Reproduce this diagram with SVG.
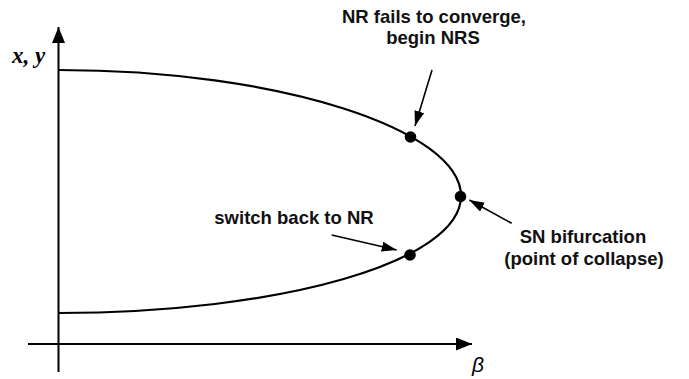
<svg xmlns="http://www.w3.org/2000/svg" width="689" height="379" viewBox="0 0 689 379">
<style>
.axis{stroke:#000;stroke-width:2;fill:none}
.curve{stroke:#000;stroke-width:2.2;fill:none}
.ann{stroke:#000;stroke-width:1.6;fill:none}
.lbl{font-family:"Liberation Sans",Arial,sans-serif;font-weight:bold;font-size:18.5px;fill:#111;text-anchor:middle}
.dot{fill:#000}
</style>
<defs>
<marker id="axhead" markerUnits="userSpaceOnUse" markerWidth="18" markerHeight="14" refX="16" refY="6.5" orient="auto">
<path d="M0,0 L16,6.5 L0,13 Z" fill="#000"/>
</marker>
<marker id="anhead" markerUnits="userSpaceOnUse" markerWidth="17" markerHeight="12" refX="15" refY="5" orient="auto">
<path d="M0,0 L15,5 L0,10 Z" fill="#000"/>
</marker>
</defs>
<g id="axes">
<line class="axis" x1="58.5" y1="372" x2="58.5" y2="27" marker-end="url(#axhead)"/>
<line class="axis" x1="28" y1="344" x2="472" y2="344" marker-end="url(#axhead)"/>
<text x="12" y="63" font-family="'Liberation Serif','Times New Roman',serif" font-weight="bold" font-style="italic" font-size="23" fill="#000">x, y</text>
<text x="478" y="372" font-family="'Liberation Sans',Arial,sans-serif" font-style="italic" font-size="21" fill="#000" text-anchor="middle">β</text>
</g>
<g id="curve">
<path class="curve" d="M58.5,70 C280,70 461,130 461,196"/>
<path class="curve" d="M58.5,313 C280,313 461,262 461,196"/>
</g>
<g id="node-nrs">
<circle class="dot" cx="410.5" cy="137" r="5.8"/>
<text class="lbl" x="434" y="22.7">NR fails to converge,</text>
<text class="lbl" x="433" y="44.3">begin NRS</text>
</g>
<g id="node-sn">
<circle class="dot" cx="460.5" cy="196.5" r="5.8"/>
<text class="lbl" x="583" y="242.7">SN bifurcation</text>
<text class="lbl" x="584" y="265">(point of collapse)</text>
</g>
<g id="node-nr">
<circle class="dot" cx="410" cy="255" r="5.8"/>
<text class="lbl" x="294" y="224">switch back to NR</text>
</g>
<g id="connectors">
<line class="ann" x1="432" y1="70" x2="415" y2="126" marker-end="url(#anhead)"/>
<line class="ann" x1="511.7" y1="223.3" x2="469.3" y2="200" marker-end="url(#anhead)"/>
<line class="ann" x1="331.7" y1="235" x2="396.7" y2="250" marker-end="url(#anhead)"/>
</g>
</svg>
